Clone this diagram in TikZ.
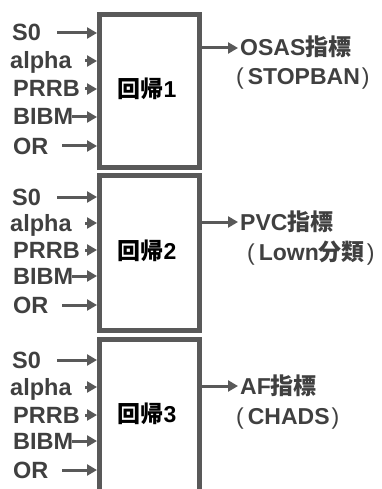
\documentclass[tikz,border=0pt]{standalone}
\usepackage{fontspec}
\setmainfont{Liberation Sans}
\newfontfamily\cjk{Noto Sans CJK JP}
\usetikzlibrary{arrows.meta}
\definecolor{boxgray}{HTML}{595959}
\definecolor{txtgray}{HTML}{404040}
\newcommand{\lpar}{{\mdseries(}\hspace{4pt}}
\newcommand{\rpar}{\hspace{2pt}{\mdseries)}}
\tikzset{
  regbox/.style={draw=boxgray, line width=5pt, minimum width=100pt, fill=white, inner sep=0pt},
  inlab/.style={anchor=base west, inner sep=0pt, text=txtgray, font=\fontsize{23.5}{27}\selectfont\bfseries},
  outlab/.style={anchor=base west, inner sep=0pt, text=txtgray, font=\fontsize{23}{27}\selectfont\bfseries},
  reglab/.style={anchor=base, inner sep=0pt, text=black, font=\fontsize{23}{27}\selectfont\bfseries},
  arr/.style={draw=boxgray, line width=3pt, -{Triangle[length=10pt,width=11pt]}}
}
\begin{document}
\begin{tikzpicture}[x=1pt,y=-1pt]
\fill[white] (0,0) rectangle (382,489);
\useasboundingbox (0,0) rectangle (382,489);

% boxes
\node[regbox, minimum height=153pt] (box1) at (149.5,91) {};
\node[regbox, minimum height=155pt] (box2) at (149.5,253) {};
\node[regbox, minimum height=200pt] (box3) at (149.5,439.5) {};

% box labels
\node[reglab] (lab1) at (147,98) {{\cjk 回帰}1};
\node[reglab] (lab2) at (147,259) {{\cjk 回帰}2};
\node[reglab] (lab3) at (147,422) {{\cjk 回帰}3};

% ---- box 1 inputs
\node[inlab] (s01) at (12,41) {S0};
\node[inlab] (al1) at (10,69) {alpha};
\node[inlab] (pr1) at (13,97) {PRRB};
\node[inlab] (bi1) at (13,125) {BIBM};
\node[inlab] (or1) at (13,154) {OR};
\coordinate (s01s) at (57,33);
\coordinate (al1s) at (85,61);
\coordinate (pr1s) at (85,89);
\coordinate (bi1s) at (72,117);
\coordinate (or1s) at (62,146);
\foreach \c in {s01s,al1s,pr1s,bi1s,or1s}{\draw[arr] (\c) -- (\c -| box1.west);}

% ---- box 2 inputs
\node[inlab] (s02) at (12,205) {S0};
\node[inlab] (al2) at (10,231) {alpha};
\node[inlab] (pr2) at (13,258) {PRRB};
\node[inlab] (bi2) at (13,284) {BIBM};
\node[inlab] (or2) at (13,313) {OR};
\coordinate (s02s) at (57,197);
\coordinate (al2s) at (85,223);
\coordinate (pr2s) at (85,250);
\coordinate (bi2s) at (72,276);
\coordinate (or2s) at (62,305);
\foreach \c in {s02s,al2s,pr2s,bi2s,or2s}{\draw[arr] (\c) -- (\c -| box2.west);}

% ---- box 3 inputs
\node[inlab] (s03) at (12,368) {S0};
\node[inlab] (al3) at (10,395) {alpha};
\node[inlab] (pr3) at (13,423) {PRRB};
\node[inlab] (bi3) at (13,449) {BIBM};
\node[inlab] (or3) at (13,478) {OR};
\coordinate (s03s) at (57,360);
\coordinate (al3s) at (85,387);
\coordinate (pr3s) at (85,415);
\coordinate (bi3s) at (72,441);
\coordinate (or3s) at (62,470);
\foreach \c in {s03s,al3s,pr3s,bi3s,or3s}{\draw[arr] (\c) -- (\c -| box3.west);}

% ---- outputs
\coordinate (o1) at (238,48);
\coordinate (o2) at (238,222);
\coordinate (o3) at (238,386);
\draw[arr] (o1 -| box1.east) -- (o1);
\draw[arr] (o2 -| box2.east) -- (o2);
\draw[arr] (o3 -| box3.east) -- (o3);

\node[outlab] (out1a) at (240,56) {OSAS{\cjk 指標}};
\node[outlab] (out1b) at (236,85) {\lpar STOPBAN\rpar};
\node[outlab] (out2a) at (240,230) {PVC{\cjk 指標}};
\node[outlab] (out2b) at (247,260) {\lpar Lown{\cjk 分類}\rpar};
\node[outlab] (out3a) at (240,394) {AF{\cjk 指標}};
\node[outlab] (out3b) at (236,424) {\lpar CHADS\rpar};
\end{tikzpicture}
\end{document}
